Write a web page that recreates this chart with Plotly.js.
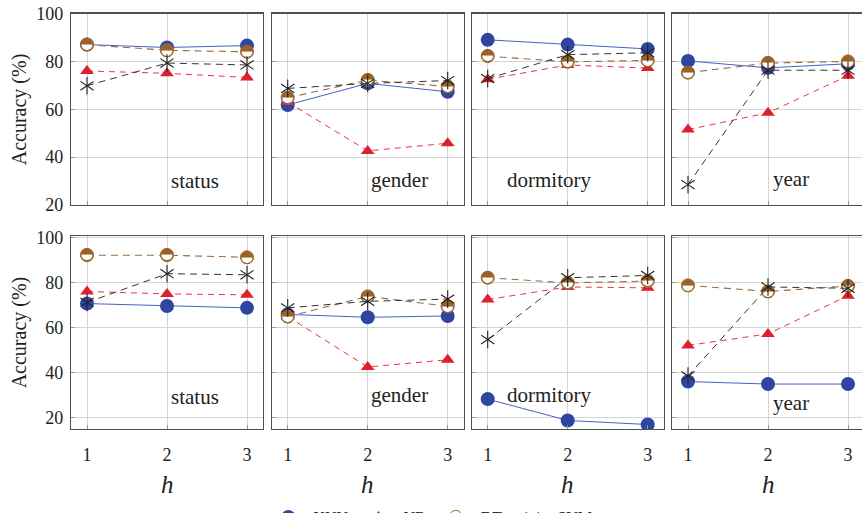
<!DOCTYPE html>
<html>
<head>
<meta charset="utf-8">
<script src="https://cdn.plot.ly/plotly-3.0.1.min.js"></script>
<style>
html,body{margin:0;padding:0;overflow:hidden;background:#fff;}
#chart{width:866px;height:513px;}
#chart svg text{font-family:'Liberation Serif' !important;}
#chart svg .textpoint text{font-family:'DejaVu Sans' !important;}
</style>
</head>
<body>
<div id="chart"></div>
<script>
// ---- data ----
const hValues = [1, 2, 3];
const panelNames = ['status', 'gender', 'dormitory', 'year'];
const methodNames = ['KNN', 'NB', 'DT', 'SVM'];
const yTicks = [20, 40, 60, 80, 100];

// top row (per panel: h = 1, 2, 3)
const knnTop = [[87.0, 85.8, 86.6], [61.8, 70.8, 67.3], [89.0, 87.0, 85.2], [80.2, 77.3, 79.0]];
const nbTop  = [[76.0, 75.0, 73.3], [63.0, 42.6, 45.8], [72.5, 78.5, 77.2], [51.5, 58.5, 74.0]];
const dtTop  = [[87.0, 84.6, 84.0], [64.8, 72.2, 69.5], [82.2, 79.8, 80.4], [75.3, 79.3, 80.0]];
const svmTop = [[69.8, 79.3, 78.5], [68.7, 70.8, 72.0], [72.8, 82.8, 83.6], [28.5, 76.3, 76.3]];

// bottom row
const knnBot = [[70.8, 69.7, 68.9], [66.0, 64.7, 65.3], [28.3, 18.8, 17.0], [36.1, 35.0, 35.0]];
const nbBot  = [[76.2, 75.1, 74.7], [65.0, 42.6, 45.8], [72.6, 78.2, 77.8], [52.2, 57.3, 74.3]];
const dtBot  = [[92.3, 92.3, 91.4], [65.0, 74.0, 69.6], [82.3, 80.0, 80.8], [78.9, 76.2, 78.6]];
const svmBot = [[71.3, 84.1, 83.6], [68.9, 71.8, 72.8], [54.8, 82.3, 83.3], [38.6, 78.2, 77.6]];

// ---- styles ----
const fontSerif = 'Liberation Serif';
const W = 866, H = 513;
const xPix = [[71, 263], [271.7, 463.7], [471.7, 663.7], [672, 864]];
const yPix = [[13.5, 205], [235.7, 429]];
const yRanges = [[20, 100], [15, 101]];
const brown = '#9b6227';

const rows = [
  {knn: knnTop, nb: nbTop, dt: dtTop, svm: svmTop},
  {knn: knnBot, nb: nbBot, dt: dtBot, svm: svmBot}
];

const traces = [];
const layout = {
  width: W, height: H,
  margin: {l: 0, r: 0, t: 0, b: 0, autoexpand: false},
  paper_bgcolor: '#fff', plot_bgcolor: '#fff',
  font: {family: fontSerif, size: 17, color: '#222'},
  showlegend: true,
  legend: {
    orientation: 'h', x: 0.497, xanchor: 'center', y: -4 / H, yanchor: 'middle',
    font: {family: fontSerif, size: 16, color: '#222'},
    itemwidth: 40, tracegroupgap: 0, bgcolor: 'rgba(0,0,0,0)'
  },
  annotations: []
};

const labelPos = [
  [[0.648, 0.125], [0.668, 0.13], [0.40, 0.13], [0.62, 0.135]],
  [[0.648, 0.168], [0.668, 0.175], [0.40, 0.175], [0.62, 0.132]]
];

for (let r = 0; r < 2; r++) {
  for (let p = 0; p < 4; p++) {
    const i = r * 4 + p + 1;
    const xa = 'x' + (i === 1 ? '' : i);
    const ya = 'y' + (i === 1 ? '' : i);
    const xk = 'xaxis' + (i === 1 ? '' : i);
    const yk = 'yaxis' + (i === 1 ? '' : i);
    const first = (i === 1);
    const d = rows[r];

    layout[xk] = {
      domain: [xPix[p][0] / W, xPix[p][1] / W],
      anchor: ya, range: [0.8, 3.2], tickvals: hValues,
      showticklabels: r === 1, ticks: 'inside', ticklen: 4, tickcolor: '#999',
      showgrid: true, gridcolor: '#d4d4d4', gridwidth: 1,
      showline: true, mirror: true, linecolor: '#505050', linewidth: 1.2,
      zeroline: false, fixedrange: true, automargin: false,
      tickfont: {family: fontSerif, size: 18, color: '#222'}, ticklabelstandoff: 9
    };
    layout[yk] = {
      domain: [(H - yPix[r][1]) / H, (H - yPix[r][0]) / H],
      anchor: xa, range: yRanges[r], tickvals: yTicks,
      showticklabels: p === 0, ticks: 'inside', ticklen: 4, tickcolor: '#999',
      showgrid: true, gridcolor: '#d4d4d4', gridwidth: 1,
      showline: true, mirror: true, linecolor: '#505050', linewidth: 1.2,
      zeroline: false, fixedrange: true, automargin: false,
      tickfont: {family: fontSerif, size: 18, color: '#222'}, ticklabelstandoff: 3
    };

    traces.push({
      x: hValues, y: d.knn[p], xaxis: xa, yaxis: ya, name: methodNames[0],
      mode: 'lines+markers', showlegend: first, legendgroup: 'knn',
      line: {color: '#4762c4', width: 1},
      marker: {symbol: 'circle', size: 14, color: '#2f46a0', line: {width: 0}}
    });
    traces.push({
      x: hValues, y: d.nb[p], xaxis: xa, yaxis: ya, name: methodNames[1],
      mode: 'lines+markers', showlegend: first, legendgroup: 'nb',
      line: {color: '#ee3340', width: 1, dash: '6px,5px'},
      marker: {symbol: 'triangle-up', size: 12, color: '#df1f2b', line: {width: 0}}
    });
    traces.push({
      x: hValues, y: d.dt[p], xaxis: xa, yaxis: ya, name: methodNames[2],
      mode: 'lines+markers', showlegend: first, legendgroup: 'dt',
      line: {color: '#9a6a3a', width: 1.1, dash: '7px,5px'},
      marker: {symbol: 'circle', size: 13, color: '#ffffff',
               line: {color: brown, width: 1}}
    });
    traces.push({
      x: hValues, y: d.dt[p], xaxis: xa, yaxis: ya, name: methodNames[2],
      mode: 'text', text: ['\u25D3', '\u25D3', '\u25D3'], textposition: 'middle center',
      showlegend: false, hoverinfo: 'skip',
      textfont: {family: 'DejaVu Sans', size: 17, color: brown}
    });
    traces.push({
      x: hValues, y: d.svm[p], xaxis: xa, yaxis: ya, name: methodNames[3],
      mode: 'lines+markers', showlegend: first, legendgroup: 'svm',
      line: {color: '#333', width: 1, dash: '7px,5px'},
      marker: {symbol: 'y-down-open', size: 11, color: '#222', line: {color: '#222', width: 1.1}}
    });
    traces.push({
      x: hValues, y: d.svm[p], xaxis: xa, yaxis: ya, name: methodNames[3],
      mode: 'markers', showlegend: false, legendgroup: 'svm', hoverinfo: 'skip',
      marker: {symbol: 'y-up-open', size: 11, color: '#222', line: {color: '#222', width: 1.1}}
    });

    layout.annotations.push({
      text: panelNames[p], xref: xa + ' domain', yref: ya + ' domain',
      x: labelPos[r][p][0], y: labelPos[r][p][1], xanchor: 'center', yanchor: 'middle',
      showarrow: false, font: {family: fontSerif, size: 21, color: '#222'}
    });
    if (r === 1) {
      layout.annotations.push({
        text: '<i>h</i>', xref: xa + ' domain', yref: 'paper',
        x: 0.5, y: (H - 484) / H, xanchor: 'center', yanchor: 'middle',
        showarrow: false, font: {family: fontSerif, size: 25, color: '#222'}
      });
    }
    if (p === 0) {
      layout.annotations.push({
        text: 'Accuracy (%)', xref: 'paper', yref: ya + ' domain',
        x: 19 / W, y: 0.5, xanchor: 'center', yanchor: 'middle', textangle: -90,
        showarrow: false, font: {family: fontSerif, size: 20, color: '#222'}
      });
    }
  }
}

Plotly.newPlot('chart', traces, layout, {displayModeBar: false, staticPlot: true});
</script>
</body>
</html>
